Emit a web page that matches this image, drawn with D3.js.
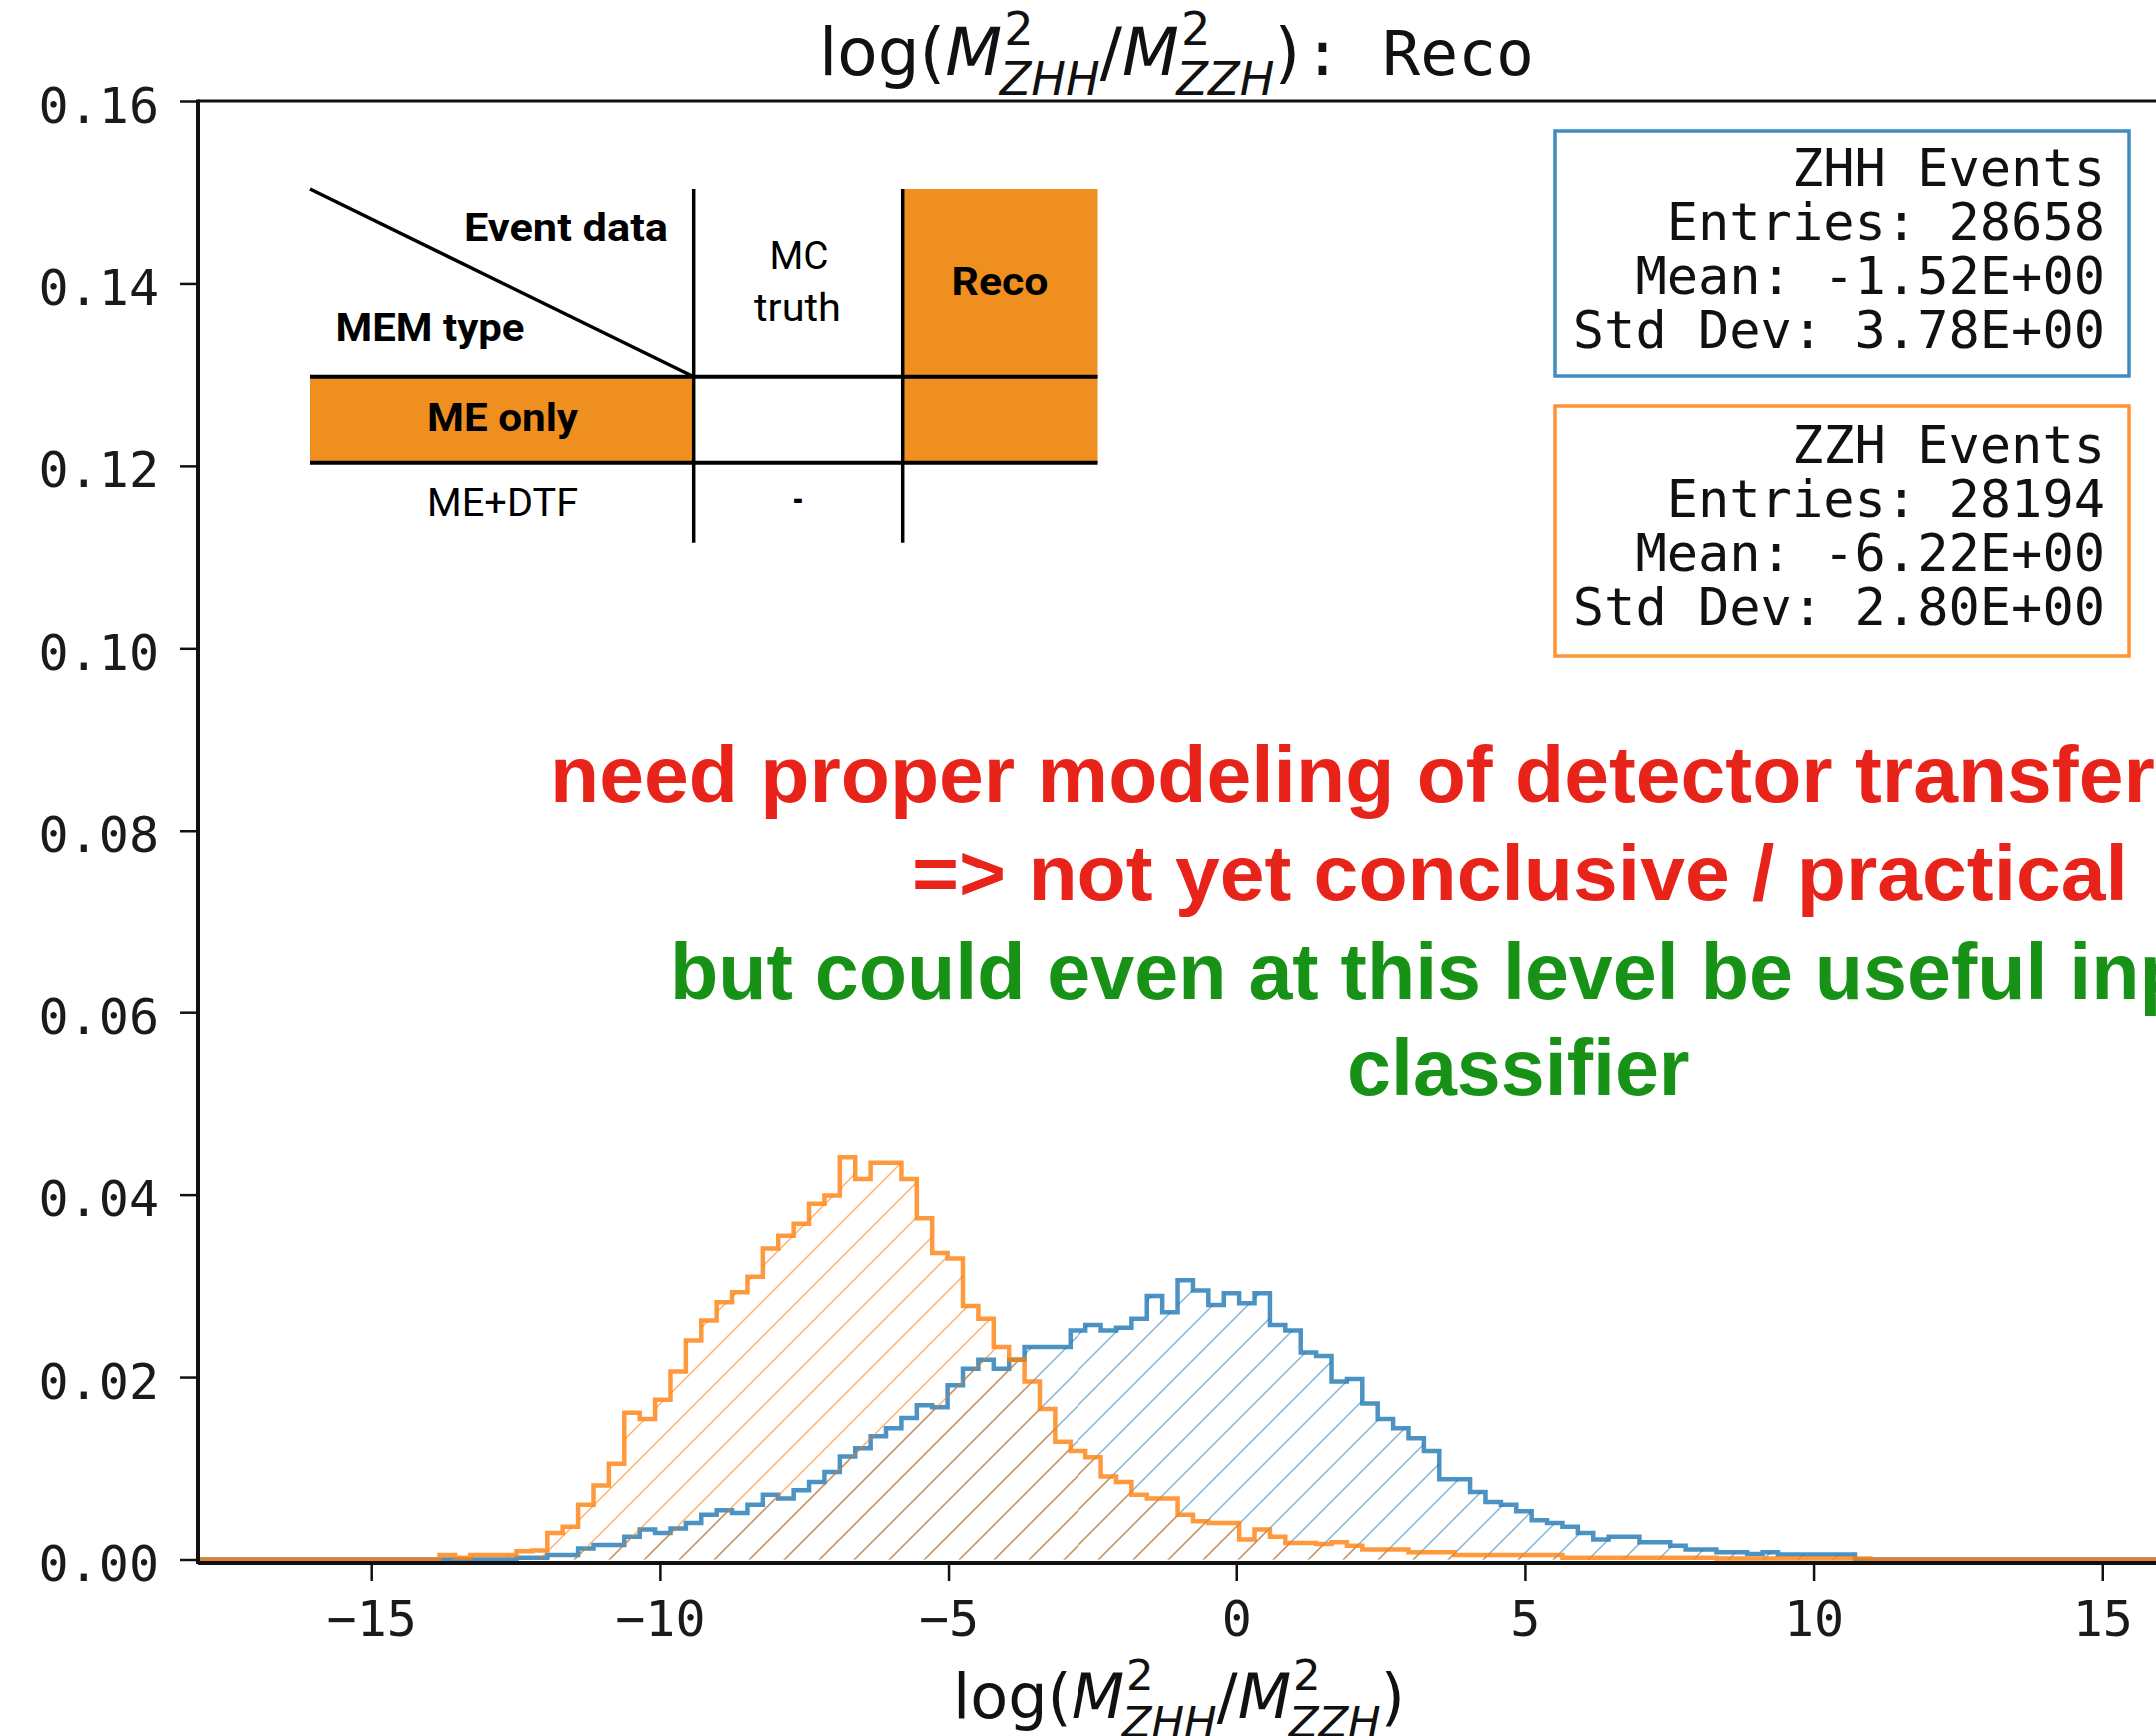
<!DOCTYPE html>
<html><head><meta charset="utf-8">
<script src="https://cdn.jsdelivr.net/npm/d3@7/dist/d3.min.js"></script>
<style>html,body{margin:0;padding:0;background:#fff;overflow:hidden}text{white-space:pre}</style>
</head><body><svg id="c" width="2157" height="1737" xmlns="http://www.w3.org/2000/svg"></svg>
<script>
// ---------------- data ----------------
const binStart = -19.95;
const binWidth = 0.26667;
const binCount = 150;

// ZHH (blue) normalised bin contents, starting at bin index zhhFirstBin
const zhhFirstBin = 28;
const zhhValues = [0.0002,0.0002,0.0005,0.0005,0.0012,0.0016,0.0016,0.0025,0.0033,0.0029,
  0.0034,0.0040,0.0049,0.0054,0.0051,0.0060,0.0071,0.0067,0.0076,0.0085,
  0.0096,0.0113,0.0122,0.0135,0.0144,0.0155,0.0169,0.0167,0.0191,0.0209,
  0.0219,0.0209,0.0219,0.0233,0.0233,0.0233,0.0251,0.0257,0.0251,0.0254,
  0.0264,0.0289,0.0271,0.0306,0.0295,0.0279,0.0292,0.0281,0.0292,0.0257,
  0.0251,0.0227,0.0223,0.0195,0.0198,0.0171,0.0154,0.0144,0.0133,0.0119,
  0.0088,0.0088,0.0074,0.0063,0.0060,0.0053,0.0043,0.0040,0.0036,0.0029,
  0.0022,0.0025,0.0025,0.0019,0.0019,0.0015,0.0011,0.0011,0.0008,0.0008,
  0.0006,0.0008,0.00055,0.00055,0.00055,0.00055,0.00055];

// ZZH (orange) normalised bin contents, starting at bin index zzhFirstBin
const zzhFirstBin = 23;
const zzhValues = [0.0005,0.0002,0.0005,0.0005,0.0005,0.0009,0.0010,0.0029,0.0036,0.0060,
  0.0081,0.0105,0.0161,0.0154,0.0175,0.0206,0.0240,0.0262,0.0282,0.0293,
  0.0310,0.0341,0.0355,0.0368,0.0390,0.0399,0.0441,0.0417,0.0435,0.0435,
  0.0417,0.0374,0.0336,0.0330,0.0278,0.0264,0.0233,0.0219,0.0195,0.0165,
  0.0129,0.0119,0.0112,0.0091,0.0085,0.0071,0.0067,0.0067,0.0049,0.0042,
  0.0040,0.0040,0.0022,0.0033,0.0025,0.0018,0.0018,0.0017,0.0019,0.0015,
  0.0011,0.0011,0.0011,0.0008,0.0008,0.0008,0.0005,0.0005,0.0005,0.0005,
  0.0005,0.0005,0.0005,0.0002,0.0002,0.0002,0.0002,0.0002,0.0002,0.0002,
  0.0002,0.0002,0.0002,0.0001,0.0001,0.0001,0.0001,0.0001,0.0001,0.0001,
  0.0001,0.0001,0.0001];

const xTicks = [-15, -10, -5, 0, 5, 10, 15];
const yTicks = [0, 0.02, 0.04, 0.06, 0.08, 0.10, 0.12, 0.14, 0.16];
const xDomain = [-18, 16];
const yDomain = [0, 0.16];

const zhhStats = ["ZHH Events", "Entries: 28658", "Mean: -1.52E+00", "Std Dev: 3.78E+00"];
const zzhStats = ["ZZH Events", "Entries: 28194", "Mean: -6.22E+00", "Std Dev: 2.80E+00"];

const tableTexts = ["Event data", "MEM type", "MC", "truth", "Reco", "ME only", "ME+DTF", "-"];
const noteLines = ["need proper modeling of detector transfer functions",
                   "=> not yet conclusive / practical",
                   "but could even at this level be useful input to",
                   "classifier"];

// ---------------- layout ----------------
const svg = d3.select('#c');
const L = 198, R = 2161, T = 101, B = 1560.5;
const x = d3.scaleLinear().domain(xDomain).range([L, R]);
const y = d3.scaleLinear().domain(yDomain).range([B, T]);

const BLUE = '#1f77b4', ORANGE = '#ff7f0e';
const defs = svg.append('defs');
defs.append('clipPath').attr('id', 'plotClip').append('rect')
  .attr('x', L).attr('y', T).attr('width', R - L).attr('height', 1563 - T);

function hatch(id, color, op) {
  const s = 35;
  const p = defs.append('pattern').attr('id', id).attr('patternUnits', 'userSpaceOnUse')
    .attr('width', s).attr('height', s);
  p.append('path').attr('d', `M-2,2 L2,-2 M0,${s} L${s},0 M${s-2},${s+2} L${s+2},${s-2}`)
    .attr('stroke', color).attr('stroke-opacity', op).attr('stroke-width', 1.5).attr('fill', 'none');
}
hatch('hBlue', BLUE, 0.55);
hatch('hOrange', ORANGE, 0.6);

function fullBins(first, vals) {
  const arr = new Array(binCount).fill(0);
  vals.forEach((v, i) => { arr[first + i] = v; });
  return arr;
}
function stepPoints(arr) {
  const pts = [[binStart, 0]];
  arr.forEach((v, k) => {
    pts.push([binStart + k * binWidth, v]);
    pts.push([binStart + (k + 1) * binWidth, v]);
  });
  pts.push([binStart + binCount * binWidth, 0]);
  return pts;
}
const line = d3.line().x(d => x(d[0])).y(d => y(d[1]));
const area = d3.area().x(d => x(d[0])).y0(y(0)).y1(d => y(d[1]));

const plot = svg.append('g').attr('clip-path', 'url(#plotClip)');
const series = [
  {vals: fullBins(zhhFirstBin, zhhValues), color: BLUE, pat: 'hBlue'},
  {vals: fullBins(zzhFirstBin, zzhValues), color: ORANGE, pat: 'hOrange'}
];
series.forEach(s => {
  const pts = stepPoints(s.vals);
  plot.append('path').attr('d', area(pts)).attr('fill', `url(#${s.pat})`).attr('stroke', 'none');
  plot.append('path').attr('d', line(pts)).attr('fill', 'none')
    .attr('stroke', s.color).attr('stroke-opacity', 0.8).attr('stroke-width', 4.5)
    .attr('stroke-linejoin', 'miter');
});

// spines
const spines = svg.append('g').attr('stroke', '#111').attr('fill', 'none');
spines.append('line').attr('x1', L).attr('x2', 2200).attr('y1', T).attr('y2', T).attr('stroke-width', 3);
spines.append('line').attr('x1', L).attr('x2', L).attr('y1', T - 1.5).attr('y2', 1565).attr('stroke-width', 4);
spines.append('line').attr('x1', L).attr('x2', 2200).attr('y1', 1564).attr('y2', 1564).attr('stroke-width', 4);

// axes
const tickFont = "'DejaVu Sans Mono', monospace";
const xAxis = d3.axisBottom(x).tickValues(xTicks).tickFormat(d3.format('d')).tickSize(18).tickPadding(18);
const gx = svg.append('g').attr('transform', `translate(0,1564)`).call(xAxis);
gx.select('.domain').remove();
gx.selectAll('.tick line').attr('stroke', '#111').attr('stroke-width', 2.5);
gx.selectAll('.tick text').attr('fill', '#1a1a1a').style('font-family', tickFont).style('font-size', '50px')
  .attr('dy', null).attr('y', 73);

const yAxis = d3.axisLeft(y).tickValues(yTicks).tickFormat(d3.format('.2f')).tickSize(18).tickPadding(21);
const gy = svg.append('g').attr('transform', `translate(${L},0)`).call(yAxis);
gy.select('.domain').remove();
gy.selectAll('.tick line').attr('stroke', '#111').attr('stroke-width', 2.5);
gy.selectAll('.tick text').attr('fill', '#1a1a1a').style('font-family', tickFont).style('font-size', '50px')
  .attr('dy', '0.42em');

// math label helper
function mathLabel(cx, baseline, size, pieces) {
  const g = svg.append('g');
  const els = pieces.map(p => {
    const fs = (p.abs || ((p.scale || 1) * size));
    const t = g.append('text').attr('y', baseline + (p.dy || 0) * size)
      .attr('fill', '#111')
      .style('font-family', p.mono ? "'DejaVu Sans Mono'" : "'DejaVu Sans'")
      .style('font-style', p.it ? 'italic' : 'normal')
      .style('font-size', fs + 'px')
      .text(p.t);
    return {t, p, w: t.node().getComputedTextLength()};
  });
  let cur = 0, held = 0;
  els.forEach(e => {
    e.x = cur + (e.p.dx || 0) * size;
    if (e.p.hold) { held = e.w + (e.p.dx || 0) * size; }
    else { cur = Math.max(e.x + e.w, cur + held); held = 0; }
  });
  const x0 = cx - cur / 2;
  els.forEach(e => e.t.attr('x', x0 + e.x));
}
function massRatio(extra) {
  const p = [
    {t: 'log('},
    {t: 'M', it: true},
    {t: '2', scale: 0.7, dy: -0.45, hold: true, dx: 0.03},
    {t: 'ZHH', it: true, scale: 0.7, dy: 0.3, dx: -0.04},
    {t: '/'},
    {t: 'M', it: true},
    {t: '2', scale: 0.7, dy: -0.45, hold: true, dx: 0.03},
    {t: 'ZZH', it: true, scale: 0.7, dy: 0.3, dx: -0.04},
    {t: ')'}
  ];
  return extra ? p.concat(extra) : p;
}
mathLabel(1177, 75, 66, massRatio([{t: ':', mono: true, abs: 63, dx: 0.05}, {t: 'Reco', mono: true, abs: 63, dx: 0.62}]));
mathLabel(1179.5, 1719, 62, massRatio());

// stats boxes
function statBox(top, bottom, color, lines, firstBase) {
  svg.append('rect').attr('x', 1556).attr('y', top).attr('width', 2130 - 1556).attr('height', bottom - top)
    .attr('fill', '#fff').attr('stroke', color).attr('stroke-opacity', 0.85).attr('stroke-width', 3.5);
  svg.append('g').selectAll('text').data(lines).join('text')
    .attr('x', 2106).attr('y', (d, i) => firstBase + i * 54)
    .attr('text-anchor', 'end').attr('fill', '#111')
    .style('font-family', tickFont).style('font-size', '52px').text(d => d);
}
statBox(131, 376, BLUE, zhhStats, 186);
statBox(406, 656, ORANGE, zzhStats, 463);

// table picture (top-left)
const TO = '#ef8f20';
const tb = svg.append('g');
tb.append('rect').attr('x', 902.7).attr('y', 189).attr('width', 195.8).attr('height', 273.7).attr('fill', TO);
tb.append('rect').attr('x', 310).attr('y', 376.7).attr('width', 383.7).attr('height', 86).attr('fill', TO);
const tl = tb.append('g').attr('stroke', '#000').attr('stroke-width', 3.5);
tl.append('line').attr('x1', 310).attr('y1', 189).attr('x2', 693.7).attr('y2', 376.7);
tl.append('line').attr('x1', 693.7).attr('y1', 189).attr('x2', 693.7).attr('y2', 542.7);
tl.append('line').attr('x1', 902.7).attr('y1', 189).attr('x2', 902.7).attr('y2', 542.7);
tl.append('line').attr('x1', 310).attr('y1', 376.7).attr('x2', 1098.5).attr('y2', 376.7).attr('stroke-width', 4);
tl.append('line').attr('x1', 310).attr('y1', 462.7).attr('x2', 1098.5).attr('y2', 462.7).attr('stroke-width', 4);
const tpos = [
  {cx: 566, by: 241, w: 204, bold: true},
  {cx: 430, by: 341, w: 189, bold: true},
  {cx: 799, by: 269, w: 59, bold: false},
  {cx: 797.5, by: 321, w: 87, bold: false},
  {cx: 1000, by: 295, w: 97, bold: true},
  {cx: 502.6, by: 431, w: 151, bold: true},
  {cx: 502.6, by: 516, w: 151, bold: false},
  {cx: 798, by: 513, w: 11, bold: true}
];
tableTexts.forEach((t, i) => {
  const p = tpos[i];
  tb.append('text').attr('x', p.cx).attr('y', p.by).attr('text-anchor', 'middle')
    .attr('textLength', p.w).attr('lengthAdjust', 'spacingAndGlyphs')
    .attr('fill', '#000').style('font-family', "Roboto, 'Liberation Sans', sans-serif")
    .style('font-weight', p.bold ? 700 : 400).style('font-size', '38px').text(t);
});

// annotation notes
const notePos = [
  {x: 550, y: 802, c: '#e8241a', fs: 80.5},
  {x: 912, y: 901, c: '#e8241a', fs: 80.5},
  {x: 670, y: 1000, c: '#179217', fs: 79},
  {x: 1348, y: 1096, c: '#179217', fs: 79}
];
noteLines.forEach((t, i) => {
  svg.append('text').attr('x', notePos[i].x).attr('y', notePos[i].y).attr('fill', notePos[i].c)
    .style('font-family', "'Liberation Sans', Arial, sans-serif").style('font-weight', 700)
    .style('font-size', notePos[i].fs + 'px').text(t);
});
</script>
</body></html>
